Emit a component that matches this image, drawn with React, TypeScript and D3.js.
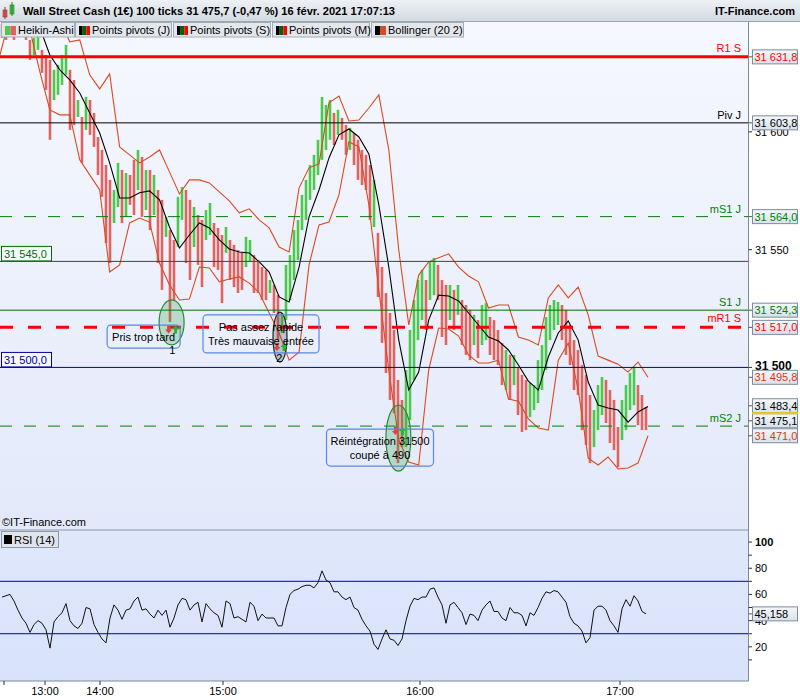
import React from 'react';
import * as d3 from 'd3';

// Heikin-Ashi bars (one every ~2 ticks-bars), high / low and direction
const haHigh = [
  31645.8, 31645.0, 31646.7, 31645.8, 31647.5, 31648.4, 31645.4, 31639.0, 31639.9, 31641.1,
  31634.8, 31632.6, 31630.5, 31626.3, 31628.4, 31632.6, 31636.9, 31626.3, 31622.0, 31613.5,
  31606.3, 31614.8, 31613.5, 31608.0, 31597.8, 31592.3, 31585.9, 31579.6, 31575.3, 31586.8,
  31583.8, 31582.5, 31581.7, 31588.1, 31592.3, 31589.3, 31583.8, 31583.8, 31581.7, 31575.3,
  31571.1, 31563.9, 31558.3, 31554.1, 31572.4, 31576.6, 31575.3, 31571.1, 31568.1, 31564.7,
  31562.6, 31566.8, 31569.8, 31561.3, 31559.2, 31556.2, 31559.6, 31554.1, 31552.0, 31549.8,
  31549.0, 31555.4, 31554.1, 31547.7, 31545.6, 31542.6, 31541.4, 31537.1, 31535.0, 31530.7,
  31523.1, 31543.5, 31547.7, 31558.3, 31562.6, 31573.2, 31579.6, 31585.9, 31590.2, 31596.6,
  31614.8, 31611.4, 31613.5, 31608.0, 31609.3, 31605.9, 31602.9, 31601.7, 31599.5, 31596.6,
  31592.3, 31590.2, 31585.9, 31579.6, 31557.1, 31542.6, 31531.6, 31523.1, 31515.9, 31494.7,
  31486.2, 31498.9, 31515.9, 31528.6, 31537.1, 31541.4, 31537.1, 31544.8, 31546.5, 31543.5,
  31537.1, 31535.0, 31535.0, 31532.9, 31535.0, 31528.6, 31526.5, 31524.4, 31522.3, 31520.1,
  31526.5, 31527.3, 31521.4, 31520.1, 31515.9, 31510.4, 31507.4, 31505.3, 31505.3, 31500.2,
  31496.8, 31494.7, 31493.4, 31492.5, 31503.1, 31509.5, 31521.4, 31526.5, 31528.6, 31527.8,
  31526.5, 31524.4, 31518.0, 31511.6, 31507.4, 31501.0, 31496.8, 31488.3, 31481.9, 31492.5,
  31495.9, 31494.7, 31490.4, 31486.2, 31474.7, 31486.2, 31492.5, 31497.6, 31500.2, 31492.5,
  31488.3, 31483.2,
];
const haLow = [
  31639.9, 31639.0, 31640.7, 31639.0, 31641.6, 31642.4, 31639.0, 31630.5, 31632.6, 31634.8,
  31625.0, 31617.8, 31596.6, 31613.5, 31615.7, 31619.9, 31624.2, 31600.8, 31602.9, 31606.3,
  31586.8, 31600.8, 31598.7, 31593.6, 31581.7, 31572.4, 31552.8, 31544.3, 31561.3, 31568.1,
  31561.3, 31563.9, 31569.0, 31564.7, 31575.3, 31563.9, 31566.8, 31558.3, 31564.7, 31544.3,
  31532.9, 31555.4, 31519.3, 31528.6, 31551.1, 31562.6, 31544.3, 31537.1, 31551.1, 31543.5,
  31534.1, 31554.1, 31556.2, 31542.6, 31541.4, 31527.3, 31548.6, 31537.1, 31534.1, 31531.6,
  31532.9, 31542.6, 31544.8, 31531.6, 31531.6, 31528.6, 31528.6, 31531.6, 31523.1, 31511.6,
  31514.6, 31520.1, 31528.6, 31537.1, 31545.6, 31558.3, 31562.6, 31571.1, 31575.3, 31581.7,
  31588.1, 31592.3, 31596.6, 31594.4, 31598.7, 31596.6, 31590.2, 31592.3, 31585.9, 31579.6,
  31577.4, 31575.3, 31562.6, 31559.6, 31529.9, 31510.4, 31497.6, 31486.2, 31480.6, 31459.4,
  31466.2, 31466.2, 31477.7, 31494.7, 31511.6, 31520.1, 31515.9, 31528.6, 31530.7, 31528.6,
  31512.9, 31509.5, 31520.1, 31515.9, 31522.3, 31509.5, 31505.3, 31503.1, 31509.5, 31504.0,
  31509.5, 31511.6, 31505.3, 31503.1, 31501.0, 31492.5, 31490.4, 31486.2, 31492.5, 31479.8,
  31472.6, 31473.4, 31478.9, 31481.9, 31484.9, 31490.4, 31498.9, 31511.6, 31515.9, 31518.0,
  31511.6, 31505.3, 31501.0, 31490.4, 31488.3, 31473.4, 31467.1, 31459.4, 31466.2, 31473.4,
  31479.8, 31476.4, 31467.9, 31464.9, 31457.7, 31469.2, 31473.4, 31481.9, 31484.0, 31475.5,
  31473.4, 31473.4,
];
const haDir =
  'dduduudduu' + 'ddduuuuddu' + 'dudddddduu' + 'duddududud' + 'dudduuddud' + 'duuddduddd' +
  'duuddddudd' + 'uuuuuuuuuu' + 'uuududdudd' + 'dddudddddd' + 'duuuuuduud' + 'ddududddud' +
  'uuddddudud' + 'dduuuuuuuu' + 'dddddddduu' + 'udddduuuud' + 'dd';

// Bollinger (20 2), sampled along the same time axis
const bollUpper = [
  31664.5, 31666.6, 31668.8, 31666.6, 31662.4, 31656.0, 31647.5, 31638.2, 31639.0, 31624.2,
  31618.2, 31624.6, 31593.6, 31590.2, 31586.8, 31589.3, 31592.3, 31583.0, 31573.6, 31579.6,
  31579.6, 31578.3, 31574.5, 31570.7, 31565.6, 31567.3, 31562.6, 31559.2, 31551.1, 31549.0,
  31576.2, 31584.7, 31586.4, 31612.3, 31615.2, 31604.6, 31605.0, 31610.1, 31615.7, 31592.3,
  31549.8, 31518.0, 31539.2, 31544.8, 31546.5, 31548.2, 31542.6, 31538.8, 31536.3, 31525.2,
  31526.5, 31526.5, 31512.9, 31511.6, 31509.5, 31529.5, 31535.0, 31529.5, 31534.1, 31522.3,
  31504.8, 31503.1, 31501.4, 31498.0, 31502.3, 31495.8,
];
const bollMid = [
  31660.2, 31658.1, 31653.9, 31649.6, 31644.1, 31632.6, 31626.3, 31622.0, 31616.5, 31608.0,
  31599.5, 31586.8, 31571.9, 31571.9, 31574.1, 31574.9, 31571.1, 31559.6, 31550.7, 31556.2,
  31561.3, 31559.2, 31554.1, 31550.3, 31549.0, 31548.6, 31544.8, 31540.5, 31529.9, 31527.8,
  31542.6, 31563.9, 31575.3, 31588.9, 31598.7, 31601.2, 31597.8, 31590.6, 31569.0, 31542.6,
  31511.6, 31490.4, 31498.0, 31520.1, 31530.7, 31530.3, 31528.2, 31523.1, 31518.0, 31512.9,
  31511.2, 31507.4, 31501.0, 31494.2, 31490.4, 31504.4, 31514.6, 31519.7, 31511.6, 31493.8,
  31484.0, 31482.8, 31481.9, 31476.8, 31481.1, 31483.4,
];
const bollLower = [
  31632.7, 31649.0, 31648.0, 31643.3, 31625.4, 31609.3, 31607.2, 31607.2, 31588.1, 31581.7,
  31575.3, 31540.5, 31543.5, 31561.3, 31563.4, 31561.7, 31544.3, 31535.0, 31528.6, 31529.0,
  31542.6, 31542.2, 31536.3, 31537.5, 31538.4, 31535.8, 31531.6, 31523.1, 31514.6, 31503.1,
  31506.5, 31543.5, 31560.5, 31561.7, 31573.2, 31595.7, 31593.6, 31569.0, 31532.9, 31498.9,
  31469.2, 31459.8, 31458.6, 31498.9, 31516.7, 31516.3, 31513.3, 31505.3, 31501.9, 31501.9,
  31503.1, 31486.6, 31485.7, 31478.1, 31474.3, 31473.4, 31503.1, 31510.4, 31490.4, 31461.5,
  31458.6, 31462.0, 31456.9, 31457.3, 31459.4, 31471.0,
];

// RSI (14), one value per bar
const rsi14 = [
  58, 59, 60, 55, 48, 42, 38, 31, 37, 40,
  38, 33, 19, 39, 43, 46, 53, 40, 36, 34,
  38, 50, 49, 37, 31, 26, 23, 42, 52, 48,
  41, 48, 49, 55, 58, 48, 49, 45, 42, 48,
  44, 48, 35, 42, 52, 57, 56, 48, 52, 54,
  39, 53, 49, 46, 44, 35, 55, 53, 42, 43,
  41, 39, 54, 51, 40, 45, 42, 42, 42, 36,
  36, 50, 60, 63, 64, 66, 67, 67, 65, 69,
  78, 71, 69, 62, 62, 58, 56, 58, 50, 48,
  41, 36, 32, 22, 18, 26, 33, 26, 25, 21,
  26, 40, 51, 57, 56, 58, 58, 64, 65, 58,
  52, 38, 52, 54, 50, 46, 37, 45, 44, 40,
  48, 52, 55, 47, 47, 42, 40, 50, 46, 46,
  44, 36, 46, 44, 50, 57, 62, 61, 63, 62,
  58, 54, 43, 38, 36, 32, 23, 27, 48, 51,
  51, 48, 40, 36, 31, 49, 56, 51, 59, 55,
  47, 45.158,
];
const lastPrice = 31475.1;

const levelNames = ['R1 S', 'Piv J', 'mS1 J', 'S1 J', 'mR1 S', 'mS2 J'];
const levelValues = [31631.8, 31603.8, 31564.0, 31524.3, 31517.0, 31475.1];
const markerValues = [31545.0, 31500.0];
const priceTicks = [31500, 31550, 31600];
const rsiLabels = [20, 40, 60, 80, 100];
const rsiMinor = [10, 20, 30, 40, 50, 60, 70, 80, 90, 100];
const rsiBands = [30, 70];
const timeLabels = ['', '13:00', '14:00', '15:00', '16:00', '17:00'];
const timeTickBars = [0.5, 10.75, 24.5, 55.25, 104.5, 154.5];

const noteTexts = [['Pris trop tard'], ['Pas assez rapide', 'Très mauvaise entrée'], ['Réintégration 31500', 'coupé à 490']];
const noteTags = ['1', '2', ''];
// where each note sits: box centre and ring centre (bar index, price)
const noteBoxAt = [[35.4, 31513.1], [64.75, 31514.2], [94.5, 31466.0]];
const noteRingAt = [[42.4, 31519.1], [69.5, 31512.9], [99.1, 31470.0]];
const noteTagAt = [[42.6, 31505.5], [69.3, 31502.3], [0, 0]];

const FONT = "'Liberation Sans', Arial, Helvetica, sans-serif";
const PLOT_R = 748.5;
const MAIN_T = 22;
const MAIN_B = 530;
const RSI_B = 681;
const GREEN_BAR = '#4cc94c';
const RED_BAR = '#e0635f';
const BOLL = '#dc4a1e';

const levelStyle: Record<string, { color: string; width: number; dash?: string; text: string }> = {
  'R1 S': { color: '#ff0000', width: 3, text: '#ff0000' },
  'Piv J': { color: '#000000', width: 1, text: '#000000' },
  'mS1 J': { color: '#008000', width: 1, dash: '12 12', text: '#008000' },
  'S1 J': { color: '#007000', width: 1, text: '#008000' },
  'mR1 S': { color: '#ff0000', width: 3, dash: '13 15', text: '#ff0000' },
  'mS2 J': { color: '#008000', width: 1, dash: '12 12', text: '#008000' },
};
const markerColor = ['#007000', '#00009c'];
const noteBoxSize = [[73, 23], [116, 38], [107, 37]];
const noteRing = [
  { rx: 12.5, ry: 22.5, fill: 'rgba(40,150,60,0.25)', stroke: '#2a8a3a', arrowDy: 7 },
  { rx: 7, ry: 25, fill: 'rgba(70,80,80,0.28)', stroke: '#222222', arrowDy: 10 },
  { rx: 12.5, ry: 33, fill: 'rgba(40,150,60,0.25)', stroke: '#2a8a3a', arrowDy: -7 },
];

const locale = d3.formatLocale({ decimal: ',', thousands: ' ', grouping: [3], currency: ['', ''] });
const fmtPrice = locale.format(',.1f');
const fmtTick = locale.format(',.0f');
const fmtRsi = locale.format('.3f');

const x = d3.scaleLinear().domain([0, haHigh.length - 1]).range([2, 646]);
const xBand = d3.scaleLinear().domain([0, bollMid.length - 1]).range([x(-0.5), x(haHigh.length - 0.5)]);
const y = d3.scaleLinear().domain([31431.0, 31646.6]).range([MAIN_B, MAIN_T]);
const yRsi = d3.scaleLinear().domain([-6.1, 109.2]).range([RSI_B, MAIN_B]);

const arrowPath = (cx: number, cy: number, up: boolean) => {
  const s = up ? 1 : -1;
  return `M${cx - 1.5},${cy + 4 * s} V${cy} H${cx - 3.5} L${cx},${cy - 4 * s} L${cx + 3.5},${cy} H${cx + 1.5} V${cy + 4 * s} Z`;
};

const ValueBox = ({ cy, text, color }: { cy: number; text: string; color: string }) => (
  <g>
    <line x1={PLOT_R} x2={752} y1={cy} y2={cy} stroke="#555" />
    <rect x={752.5} y={cy - 7} width={45} height={14} fill="url(#boxBg)" stroke="#7d8c9c" />
    <text x={754.5} y={cy + 4} fill={color} fontSize={11}>{text}</text>
  </g>
);

export default function App() {
  const bandLine = d3.line<number>().x((_, i) => xBand(i)).y(d => y(d));
  const rsiLine = d3.line<number>().x((_, i) => x(i)).y(d => yRsi(d));

  // right axis value boxes, pushed apart when they overlap
  const boxes = [
    ...levelNames.slice(0, 5).map((n, i) => ({ v: levelValues[i], color: levelStyle[n].text })),
    { v: bollUpper[bollUpper.length - 1], color: '#d03c10' },
    { v: bollMid[bollMid.length - 1], color: '#000' },
    { v: lastPrice, color: '#000' },
    { v: bollLower[bollLower.length - 1], color: '#d03c10' },
  ].sort((a, b) => b.v - a.v);
  const cys = boxes.map(b => y(b.v));
  for (let i = cys.length - 2; i >= 0; i--) cys[i] = Math.min(cys[i], cys[i + 1] - 15);
  const iLast = boxes.findIndex(b => b.v === lastPrice);

  const legend = [
    { label: 'Heikin-Ashi', x0: 1, w: 73, sw: [GREEN_BAR, RED_BAR] },
    { label: 'Points pivots (J)', x0: 75, w: 96, sw: ['#000', '#006400', '#ff0000'] },
    { label: 'Points pivots (S)', x0: 173, w: 97, sw: ['#000', '#006400', '#ff0000'] },
    { label: 'Points pivots (M)', x0: 272, w: 97, sw: ['#000', '#006400', '#ff0000'] },
    { label: 'Bollinger (20 2)', x0: 371, w: 92, sw: ['#000', BOLL] },
  ];

  return (
    <svg width={800} height={700} style={{ position: 'absolute', left: 0, top: 0 }} fontFamily={FONT}>
      <defs>
        <linearGradient id="mainBg" x1="0" y1="0" x2="0" y2="1">
          <stop offset="0" stopColor="#f6f8fe" />
          <stop offset="1" stopColor="#e3e9fa" />
        </linearGradient>
        <linearGradient id="rsiBg" x1="0" y1="0" x2="0" y2="1">
          <stop offset="0" stopColor="#e0e8fc" />
          <stop offset="1" stopColor="#d8e2fa" />
        </linearGradient>
        <linearGradient id="titleBg" x1="0" y1="0" x2="0" y2="1">
          <stop offset="0" stopColor="#eef1f4" />
          <stop offset="1" stopColor="#d2dae2" />
        </linearGradient>
        <linearGradient id="boxBg" x1="0" y1="0" x2="0" y2="1">
          <stop offset="0" stopColor="#f4f7fb" />
          <stop offset="1" stopColor="#d9e1ec" />
        </linearGradient>
        <clipPath id="clipMain"><rect x={0} y={MAIN_T} width={PLOT_R} height={MAIN_B - MAIN_T} /></clipPath>
        <clipPath id="clipRsi"><rect x={0} y={MAIN_B} width={PLOT_R} height={RSI_B - MAIN_B} /></clipPath>
      </defs>

      <rect width={800} height={700} fill="#ffffff" />
      <rect x={0} y={MAIN_T} width={PLOT_R} height={MAIN_B - MAIN_T} fill="url(#mainBg)" />
      <rect x={0} y={MAIN_B} width={PLOT_R} height={RSI_B - MAIN_B} fill="url(#rsiBg)" />

      {/* main price panel */}
      <g clipPath="url(#clipMain)">
        {haHigh.map((h, i) => (
          <rect key={i} x={x(i) - 1.3} width={2.6} y={y(h)} height={Math.max(1, y(haLow[i]) - y(h))}
            fill={haDir[i] === 'u' ? GREEN_BAR : RED_BAR} />
        ))}
        <path d={bandLine(bollUpper) ?? ''} fill="none" stroke={BOLL} strokeWidth={1.1} />
        <path d={bandLine(bollLower) ?? ''} fill="none" stroke={BOLL} strokeWidth={1.1} />
        <path d={bandLine(bollMid) ?? ''} fill="none" stroke="#000" strokeWidth={1.1} />

        {markerValues.map((v, i) => (
          <line key={i} x1={0} x2={PLOT_R} y1={y(v)} y2={y(v)} stroke={markerColor[i]} strokeWidth={1} />
        ))}
        {levelNames.map((n, i) => {
          const st = levelStyle[n];
          return (
            <g key={n}>
              <line x1={0} x2={PLOT_R} y1={y(levelValues[i])} y2={y(levelValues[i])}
                stroke={st.color} strokeWidth={st.width} strokeDasharray={st.dash} />
              <text x={741} y={y(levelValues[i]) - (st.width > 1 ? 5 : 4)} textAnchor="end" fontSize={11} fill={st.text}>{n}</text>
            </g>
          );
        })}

        {noteTexts.map((lines, k) => {
          const r = noteRing[k];
          const cx = x(noteRingAt[k][0]);
          const cy = y(noteRingAt[k][1]);
          const bx = x(noteBoxAt[k][0]);
          const by = y(noteBoxAt[k][1]);
          const [w, h] = noteBoxSize[k];
          return (
            <g key={k}>
              <ellipse cx={cx} cy={cy} rx={r.rx} ry={r.ry} fill={r.fill} stroke={r.stroke} strokeWidth={1.2} />
              <path d={arrowPath(cx - 3, cy + r.arrowDy, false)} fill="#e04040" />
              <path d={arrowPath(cx + 4, cy + r.arrowDy, true)} fill="#30b030" />
              <rect x={bx - w / 2} y={by - h / 2} width={w} height={h} rx={4} fill="none" stroke="#5b87de" strokeWidth={1.2} />
              {lines.map((t, j) => (
                <text key={j} x={bx} y={by + 4 + (j - (lines.length - 1) / 2) * 14} textAnchor="middle" fontSize={11} fill="#000">{t}</text>
              ))}
              {noteTags[k] && (
                <text x={x(noteTagAt[k][0])} y={y(noteTagAt[k][1])} textAnchor="middle" fontSize={11} fill="#000">{noteTags[k]}</text>
              )}
            </g>
          );
        })}
      </g>

      {markerValues.map((v, i) => (
        <g key={i}>
          <rect x={1.5} y={y(v) - 15} width={50} height={14.5} fill="#f6f8fe" stroke={markerColor[i]} />
          <text x={4} y={y(v) - 3.5} fontSize={11} fill={markerColor[i]}>{fmtPrice(v)}</text>
        </g>
      ))}
      <text x={2} y={526} fontSize={11} fill="#000">©IT-Finance.com</text>

      {/* RSI panel */}
      <line x1={0} x2={PLOT_R} y1={MAIN_B} y2={MAIN_B} stroke="#8796a6" />
      <g clipPath="url(#clipRsi)">
        {rsiBands.map(v => (
          <line key={v} x1={0} x2={PLOT_R} y1={yRsi(v)} y2={yRsi(v)} stroke="#2a2ad8" strokeWidth={1.2} />
        ))}
        <path d={rsiLine(rsi14) ?? ''} fill="none" stroke="#111" strokeWidth={1} />
      </g>
      <rect x={1.5} y={531.5} width={57} height={16} fill="#dfe4ea" stroke="#8a98a8" />
      <rect x={4} y={535} width={8} height={9} fill="#000" />
      <text x={14} y={544} fontSize={11} fill="#000">RSI (14)</text>

      {/* right axis */}
      <line x1={PLOT_R} x2={PLOT_R} y1={MAIN_T} y2={RSI_B} stroke="#7a8a9a" />
      {priceTicks.map(v => (
        <g key={v}>
          <line x1={PLOT_R} x2={752} y1={y(v)} y2={y(v)} stroke="#333" />
          <text x={755} y={y(v) + (v === 31500 ? 2.5 : 4)} fontSize={v === 31500 ? 12 : 11} fontWeight={v === 31500 ? 'bold' : 'normal'} fill="#000">{fmtTick(v)}</text>
        </g>
      ))}
      {boxes.map((b, i) => <ValueBox key={i} cy={cys[i]} text={fmtPrice(b.v)} color={b.color} />)}
      <line x1={752} x2={798} y1={cys[iLast] - 7.5} y2={cys[iLast] - 7.5} stroke="#f0cf00" strokeWidth={2} />

      {rsiMinor.map(v => (
        <line key={v} x1={PLOT_R} x2={752} y1={yRsi(v)} y2={yRsi(v)} stroke="#333" />
      ))}
      {rsiLabels.map(v => (
        <text key={v} x={755} y={yRsi(v) + 4} fontSize={11} fontWeight={v === 100 ? 'bold' : 'normal'} fill="#000">{v}</text>
      ))}
      <ValueBox cy={yRsi(rsi14[rsi14.length - 1])} text={fmtRsi(rsi14[rsi14.length - 1])} color="#000" />

      {/* time axis */}
      <line x1={0} x2={PLOT_R} y1={RSI_B} y2={RSI_B} stroke="#7a8a9a" />
      {timeTickBars.map((b, i) => (
        <g key={i}>
          <line x1={x(b)} x2={x(b)} y1={RSI_B} y2={RSI_B + 4} stroke="#333" />
          <text x={x(b)} y={695} textAnchor="middle" fontSize={11} fill="#000">{timeLabels[i]}</text>
        </g>
      ))}

      {/* title and legend */}
      <rect x={0} y={0} width={800} height={21} fill="url(#titleBg)" />
      <line x1={0} x2={800} y1={21.5} y2={21.5} stroke="#9aa6b2" />
      <rect x={3} y={10} width={4} height={7} fill={RED_BAR} stroke="#a03030" strokeWidth={0.6} />
      <line x1={5} x2={5} y1={7} y2={19} stroke="#a03030" />
      <rect x={10} y={5} width={4} height={9} fill={GREEN_BAR} stroke="#208020" strokeWidth={0.6} />
      <line x1={12} x2={12} y1={2} y2={16} stroke="#208020" />
      <text x={23} y={15} fontSize={11} fontWeight="bold" fill="#000" textLength={372} lengthAdjust="spacingAndGlyphs">
        Wall Street Cash (1€) 100 ticks 31 475,7 (-0,47 %) 16 févr. 2021 17:07:13
      </text>
      <text x={795} y={15} fontSize={11} fontWeight="bold" fill="#000" textAnchor="end">IT-Finance.com</text>
      {legend.map(l => (
        <g key={l.label}>
          <rect x={l.x0 + 0.5} y={22.5} width={l.w} height={14.5} fill="#e3e7ec" stroke="#a2acb8" />
          {l.sw.map((c, j) => (
            <rect key={j} x={l.x0 + 4 + (j * 11) / l.sw.length} y={26} width={11 / l.sw.length} height={9} fill={c} />
          ))}
          <text x={l.x0 + 17} y={34} fontSize={11} fill="#000">{l.label}</text>
        </g>
      ))}
    </svg>
  );
}
